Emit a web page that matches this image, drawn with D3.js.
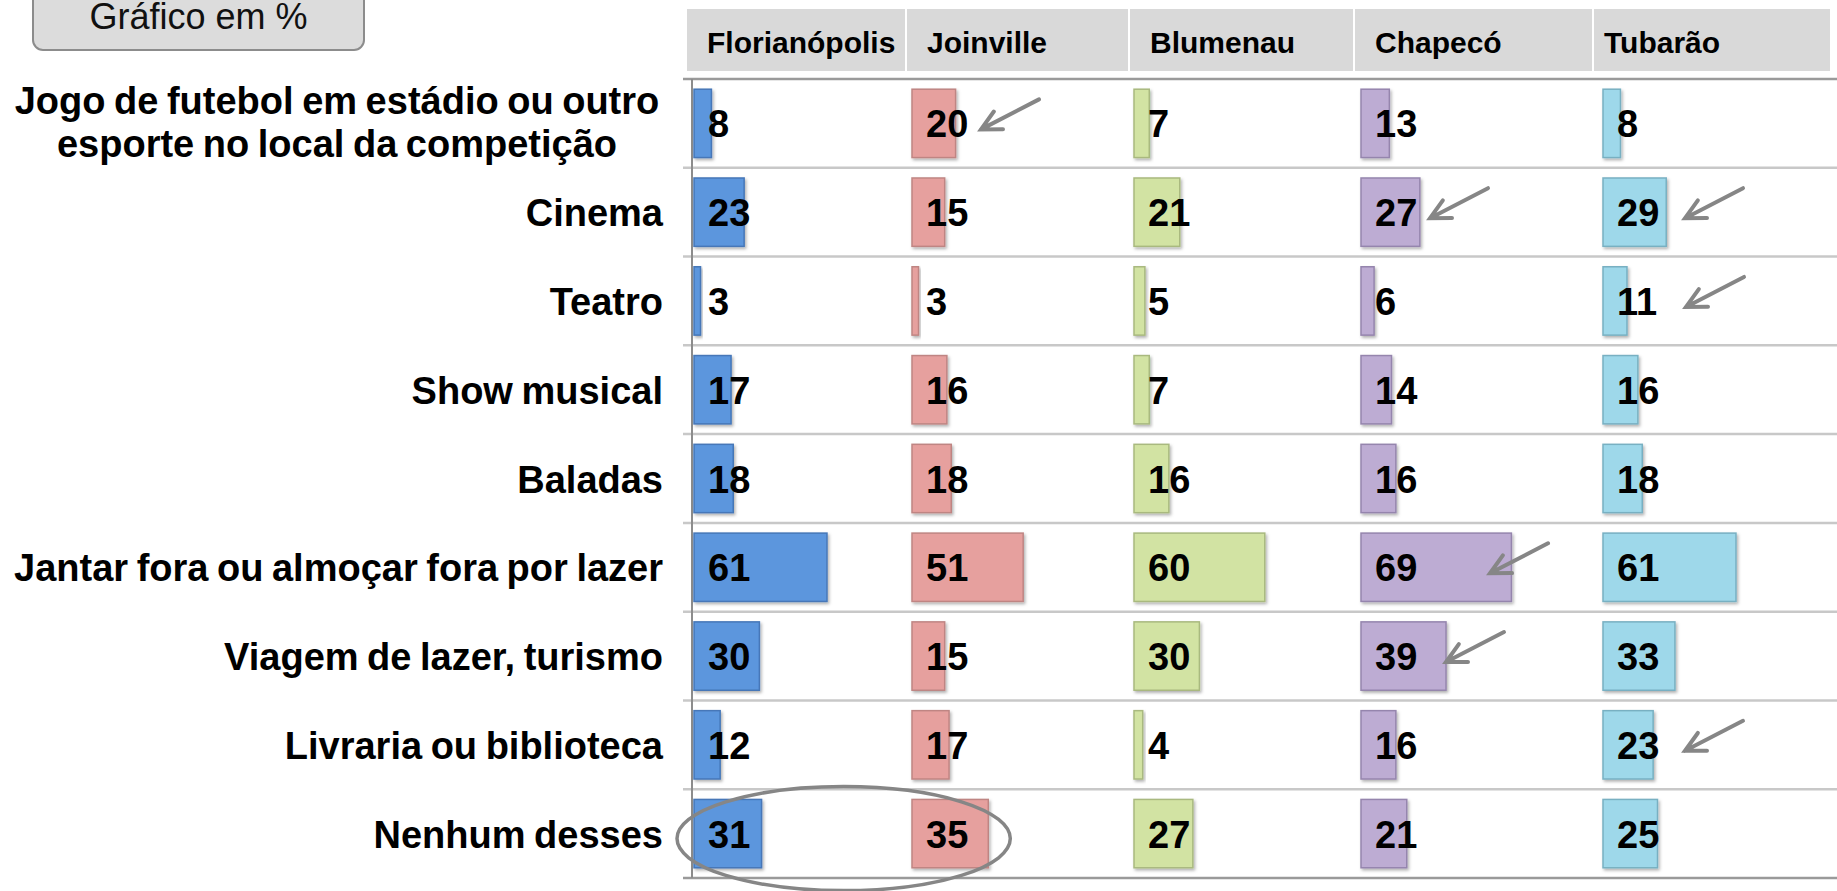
<!DOCTYPE html>
<html>
<head>
<meta charset="utf-8">
<script src="https://cdn.jsdelivr.net/npm/d3@7"></script>
<style>
  body { margin: 0; background: #fff; }
  svg { display: block; font-family: "Liberation Sans", Arial, sans-serif; }
</style>
</head>
<body>
<svg id="chart" width="1837" height="891"></svg>
<script>
// data
const categories = [
    "Jogo de futebol em estádio ou outro|esporte no local da competição",
    "Cinema",
    "Teatro",
    "Show musical",
    "Baladas",
    "Jantar fora ou almoçar fora por lazer",
    "Viagem de lazer, turismo",
    "Livraria ou biblioteca",
    "Nenhum desses"
];
const cities = ["Florianópolis", "Joinville", "Blumenau", "Chapecó", "Tubarão"];
const florianopolis = [8, 23, 3, 17, 18, 61, 30, 12, 31];
const joinville     = [20, 15, 3, 16, 18, 51, 15, 17, 35];
const blumenau      = [7, 21, 5, 7, 16, 60, 30, 4, 27];
const chapeco       = [13, 27, 6, 14, 16, 69, 39, 16, 21];
const tubarao       = [8, 29, 11, 16, 18, 61, 33, 23, 25];
const seriesValues = [florianopolis, joinville, blumenau, chapeco, tubarao];

const barColors  = ["#5b96dd", "#e6a09e", "#d2e3a3", "#bdacd3", "#9ed8ea"];
const edgeColors = ["#4677b8", "#bf8583", "#a9b97f", "#9585ad", "#78b0c2"];

// highlighted cells (arrow annotations): city, category index, tip offset in column
const arrowCity = ["Joinville", "Chapecó", "Tubarão", "Tubarão", "Chapecó", "Chapecó", "Tubarão"];
const arrowCat  = [0, 1, 1, 2, 5, 6, 7];
const arrowTipX = [69, 69, 82, 83, 129, 85, 82];

// layout
const colStart   = [694, 912, 1134, 1361, 1603];
const headEdges  = [687, 907, 1130, 1355, 1594, 1832];
const headTextX  = [707, 927, 1150, 1375, 1604];
const plotTop = 79, plotBottom = 878, axisX = 692;

const svg = d3.select("#chart");

const defs = svg.append("defs");
const shadow = defs.append("filter").attr("id", "shadow")
    .attr("x", "-20%").attr("y", "-20%").attr("width", "150%").attr("height", "150%");
shadow.append("feDropShadow").attr("dx", 1.5).attr("dy", 2).attr("stdDeviation", 1.5)
    .attr("flood-color", "#000").attr("flood-opacity", 0.3);

const y = d3.scaleBand()
    .domain(d3.range(categories.length))
    .range([plotTop, plotBottom])
    .paddingInner(0.23)
    .paddingOuter(0.115);
const step = y.step();
const rowMid = i => y(i) + y.bandwidth() / 2;

const col = d3.scaleOrdinal().domain(cities).range(colStart);
const x = d3.scaleLinear().domain([0, 100]).range([0, 218]);

// title box
const title = svg.append("g");
title.append("rect")
    .attr("x", 33).attr("y", -12).attr("width", 331).attr("height", 62)
    .attr("rx", 10)
    .attr("fill", "#dcdcdc").attr("stroke", "#8c8c8c").attr("stroke-width", 2);
title.append("text")
    .attr("x", 198.5).attr("y", 29)
    .attr("text-anchor", "middle")
    .attr("font-size", 36)
    .attr("fill", "#111")
    .text("Gráfico em %");

// header cells
const head = svg.append("g");
cities.forEach((c, i) => {
    head.append("rect")
        .attr("x", headEdges[i]).attr("y", 9)
        .attr("width", headEdges[i + 1] - headEdges[i] - 2).attr("height", 62)
        .attr("fill", "#d9d9d9");
    head.append("text")
        .attr("x", headTextX[i]).attr("y", 53)
        .attr("font-size", 30).attr("font-weight", "bold")
        .attr("fill", "#000")
        .text(c);
});

// row separators
const grid = svg.append("g");
d3.range(categories.length + 1).forEach(i => {
    const yy = plotTop + i * step;
    grid.append("line")
        .attr("x1", 683).attr("x2", 1837)
        .attr("y1", yy).attr("y2", yy)
        .attr("stroke", (i === 0 || i === categories.length) ? "#9a9a9a" : "#c8c8c8")
        .attr("stroke-width", 2.5);
});
grid.append("line")
    .attr("x1", axisX).attr("x2", axisX)
    .attr("y1", plotTop).attr("y2", plotBottom)
    .attr("stroke", "#8c8c8c").attr("stroke-width", 2);

// row labels
const labels = svg.append("g")
    .attr("font-size", 38).attr("font-weight", "bold")
    .attr("word-spacing", "-2px")
    .attr("fill", "#000");
categories.forEach((c, i) => {
    const lines = c.split("|");
    if (lines.length === 1) {
        labels.append("text")
            .attr("x", 663).attr("y", rowMid(i) + 14)
            .attr("text-anchor", "end")
            .text(c);
    } else {
        lines.forEach((l, j) => {
            labels.append("text")
                .attr("x", 337).attr("y", rowMid(i) - 9 + j * 43)
                .attr("text-anchor", "middle")
                .text(l);
        });
    }
});

// bars and values
cities.forEach((c, k) => {
    const g = svg.append("g");
    g.selectAll("rect")
        .data(seriesValues[k])
        .enter()
        .append("rect")
        .attr("x", col(c))
        .attr("y", (d, i) => y(i))
        .attr("width", d => x(d))
        .attr("height", y.bandwidth())
        .attr("fill", barColors[k])
        .attr("stroke", edgeColors[k])
        .attr("stroke-width", 1.5)
        .attr("filter", "url(#shadow)");
    g.selectAll("text")
        .data(seriesValues[k])
        .enter()
        .append("text")
        .attr("x", col(c) + 14)
        .attr("y", (d, i) => rowMid(i) + 14)
        .attr("font-size", 38).attr("font-weight", "bold")
        .attr("fill", "#000")
        .text(d => d);
});

// arrows
const arrows = svg.append("g")
    .attr("stroke", "#868686").attr("stroke-width", 4)
    .attr("stroke-linecap", "round").attr("fill", "none");
arrowCity.forEach((c, i) => {
    const tx = col(c) + arrowTipX[i], ty = rowMid(arrowCat[i]) + 6;
    const ang = Math.atan2(-30, 58), len = 22, spread = 0.47;
    const a1 = [tx + len * Math.cos(ang + spread), ty + len * Math.sin(ang + spread)];
    const a2 = [tx + len * Math.cos(ang - spread), ty + len * Math.sin(ang - spread)];
    arrows.append("path")
        .attr("d", `M${tx + 58},${ty - 30}L${tx},${ty}M${a1[0]},${a1[1]}L${tx},${ty}L${a2[0]},${a2[1]}`);
});

// ellipse around Nenhum desses (Florianópolis / Joinville)
const last = categories.length - 1;
const ex1 = col("Florianópolis") - 17;
const ex2 = col("Joinville") + x(joinville[last]) + 22;
svg.append("ellipse")
    .attr("cx", (ex1 + ex2) / 2).attr("cy", rowMid(last) + 5)
    .attr("rx", (ex2 - ex1) / 2).attr("ry", 52)
    .attr("fill", "none").attr("stroke", "#868686").attr("stroke-width", 3.5);
</script>
</body>
</html>
